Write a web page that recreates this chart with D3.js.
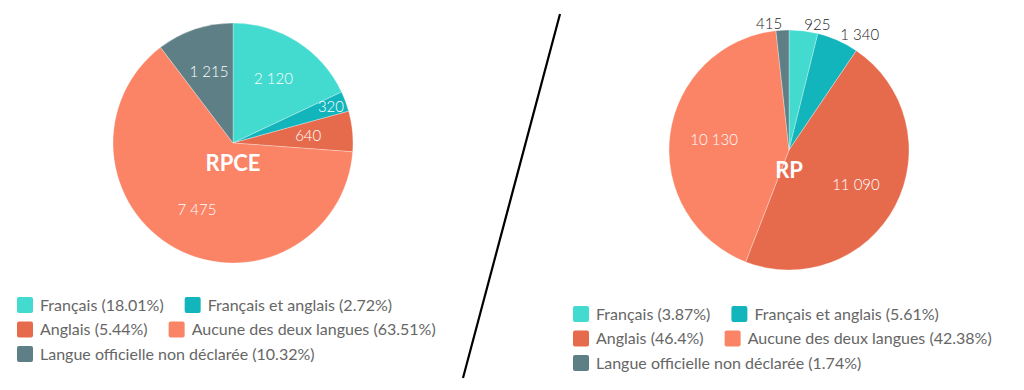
<!DOCTYPE html>
<html>
<head>
<meta charset="utf-8">
<script src="https://cdn.jsdelivr.net/npm/d3@7"></script>
<style>
  body { margin: 0; background: #fff; }
  svg { display: block; font-family: Lato, "Open Sans", sans-serif; }
</style>
</head>
<body>
<script>
//categories shared by both pies
var categories = ["Français", "Français et anglais", "Anglais", "Aucune des deux langues", "Langue officielle non déclarée"];
var colors = ["#43dbd0", "#12b5bc", "#e66b4d", "#fb8466", "#5e7f86"];

//series values
var rpceValues = [2120, 320, 640, 7475, 1215];
var rpValues = [925, 1340, 11090, 10130, 415];
var rpcePercents = ["18.01%", "2.72%", "5.44%", "63.51%", "10.32%"];
var rpPercents = ["3.87%", "5.61%", "46.4%", "42.38%", "1.74%"];

var width = 1024,
    height = 390;

var svg = d3.select("body")
    .append("svg")
    .attr("width", width)
    .attr("height", height);

var color = d3.scaleOrdinal().domain(categories).range(colors);

//number format with a space as thousands separator
var fmt = function(v){
    return d3.format(",")(v).replace(/,/g, " ");
};

drawPie({ cx: 233, cy: 143, r: 120, title: "RPCE", values: rpceValues, outside: false,
          legendX: 17, legendY: 305, legendW: 460, percents: rpcePercents });
drawPie({ cx: 789, cy: 150, r: 120, title: "RP", values: rpValues, outside: true,
          legendX: 573, legendY: 314, legendW: 445, percents: rpPercents });

//separator line
svg.append("line")
    .attr("x1", 560).attr("y1", 14)
    .attr("x2", 463).attr("y2", 378)
    .attr("stroke", "#000")
    .attr("stroke-width", 2.2);

function drawPie(o){
    var data = categories.map(function(c, i){ return { cat: c, value: o.values[i] }; });
    var total = d3.sum(o.values);

    var pie = d3.pie().sort(null).value(function(d){ return d.value; });
    var arcs = pie(data);
    var arc = d3.arc().innerRadius(0).outerRadius(o.r);

    var g = svg.append("g").attr("transform", "translate(" + o.cx + "," + o.cy + ")");

    g.selectAll(".slice")
        .data(arcs)
        .enter()
        .append("path")
        .attr("class", "slice")
        .attr("d", arc)
        .attr("fill", function(d){ return color(d.data.cat); })
        .attr("stroke", "#fff")
        .attr("stroke-width", 0.3);

    //value labels
    g.selectAll(".lbl")
        .data(arcs)
        .enter()
        .append("text")
        .attr("class", "lbl")
        .each(function(d){
            var share = d.value / total;
            var mid = (d.startAngle + d.endAngle) / 2;
            var t = d3.select(this);
            if (o.outside && share < 0.1) {
                var rr = o.r + 6;
                t.attr("x", Math.sin(mid) * rr)
                 .attr("y", -Math.cos(mid) * rr)
                 .attr("text-anchor", Math.sin(mid) >= 0 ? "start" : "end")
                 .attr("fill", "#222");
            } else {
                var rr = share < 0.03 ? o.r * 0.87 : o.r * 0.63;
                t.attr("x", Math.sin(mid) * rr)
                 .attr("y", -Math.cos(mid) * rr)
                 .attr("text-anchor", "middle")
                 .attr("fill", "#fff");
            }
        })
        .attr("dy", "0.35em")
        .attr("font-size", 15)
        .attr("font-weight", 300)
        .text(function(d){ return fmt(d.value); });

    g.append("text")
        .attr("y", 20)
        .attr("dy", "0.35em")
        .attr("text-anchor", "middle")
        .attr("fill", "#fff")
        .attr("font-size", 22)
        .attr("font-weight", 700)
        .text(o.title);

    //legend with wrapping rows
    var lg = svg.append("g");
    var x = 0, row = 0, rowH = 24.5;
    categories.forEach(function(c, i){
        var item = lg.append("g");
        item.append("rect")
            .attr("width", 16).attr("height", 16)
            .attr("y", -8)
            .attr("rx", 2)
            .attr("fill", color(c));
        var txt = item.append("text")
            .attr("x", 23)
            .attr("dy", "0.35em")
            .attr("font-size", 16)
            .attr("fill", "#666")
            .text(c + " (" + o.percents[i] + ")");
        var w = 23 + txt.node().getComputedTextLength();
        if (x > 0 && x + w > o.legendW) { x = 0; row++; }
        item.attr("transform", "translate(" + (o.legendX + x) + "," + (o.legendY + row * rowH) + ")");
        x += w + 21;
    });
}
</script>
</body>
</html>
